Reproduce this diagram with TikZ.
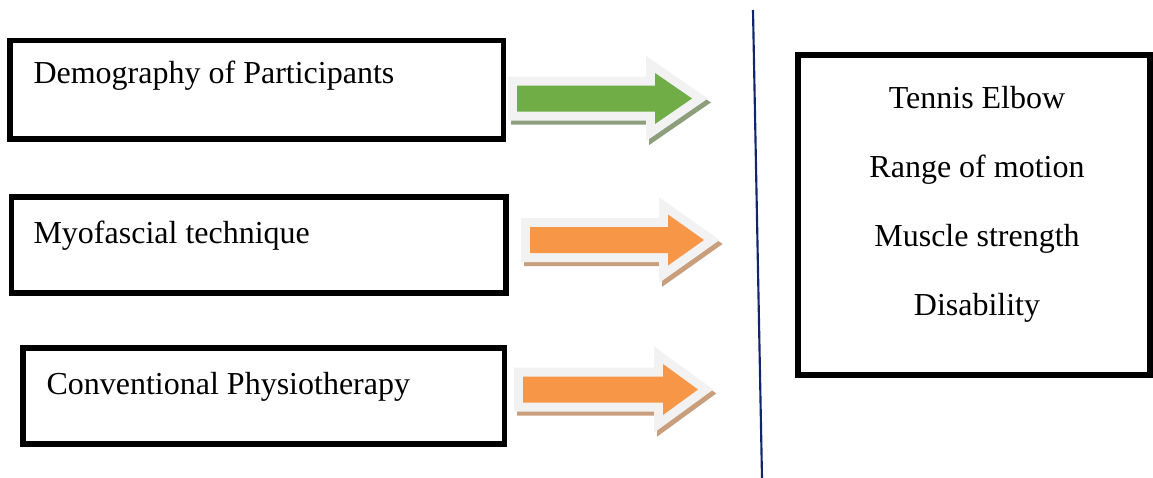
\documentclass[tikz,border=0pt]{standalone}
\usepackage{fontspec}
\setmainfont{Liberation Serif}
\usetikzlibrary{calc}
\definecolor{arrgreen}{RGB}{112,173,71}
\definecolor{arrorange}{RGB}{247,150,70}
\definecolor{arrrim}{RGB}{242,242,242}
\definecolor{greenshade}{RGB}{140,158,124}
\definecolor{orangeshade}{RGB}{201,158,124}
\definecolor{divider}{RGB}{18,38,110}

\begin{document}
\begin{tikzpicture}[x=0.375pt, y=-0.375pt, font=\fontsize{12}{14.5}\selectfont,
    box/.style={draw, line width=1.9pt, inner sep=0pt},
    lbl/.style={inner sep=0pt, anchor=base west},
    outlbl/.style={inner sep=0pt, anchor=base},
    rim/.style={line width=6.75pt, line join=miter}]
  \useasboundingbox (0,0) rectangle (1153,478);
  \node[box, minimum width=184.9pt, minimum height=37.1pt] (demo) at (256.5,89.5) {};
  \node[box, minimum width=185.6pt, minimum height=36pt] (myo) at (258.5,245) {};
  \node[box, minimum width=180.4pt, minimum height=36pt] (conv) at (263.5,396) {};
  \node[lbl] (demotxt) at (33,83) {Demography of Participants};
  \node[lbl] (myotxt) at (33,243) {Myofascial technique};
  \node[lbl] (convtxt) at (46,394) {Conventional Physiotherapy};
  \foreach \xa/\xb/\xt/\yc/\body/\shade in {517/655/692/98.5/arrgreen/greenshade,
      530/668/704/240/arrorange/orangeshade, 523/663/698/389.5/arrorange/orangeshade}{
    \def\arrpath{(\xa,\yc-13) -- (\xb,\yc-13) -- (\xb,\yc-25.5) -- (\xt,\yc)
      -- (\xb,\yc+25.5) -- (\xb,\yc+13) -- (\xa,\yc+13) -- cycle}
    \draw[rim, \shade, fill=\shade, shift={(3,4)}] \arrpath;
    \draw[rim, arrrim] \arrpath;
    \fill[\body] \arrpath;
  }
  \coordinate (divtop) at (753,10);
  \coordinate (divbot) at (762,478);
  \draw[divider, line width=0.8pt] (divtop) -- (divbot);
  \node[box, minimum width=132pt, minimum height=120pt] (outcome) at (974,215) {};
  \foreach \t [count=\i from 0] in {Tennis Elbow, Range of motion, Muscle strength, Disability}
    \node[outlbl] (out\i) at (977,{108+69*\i}) {\t};
\end{tikzpicture}
\end{document}
